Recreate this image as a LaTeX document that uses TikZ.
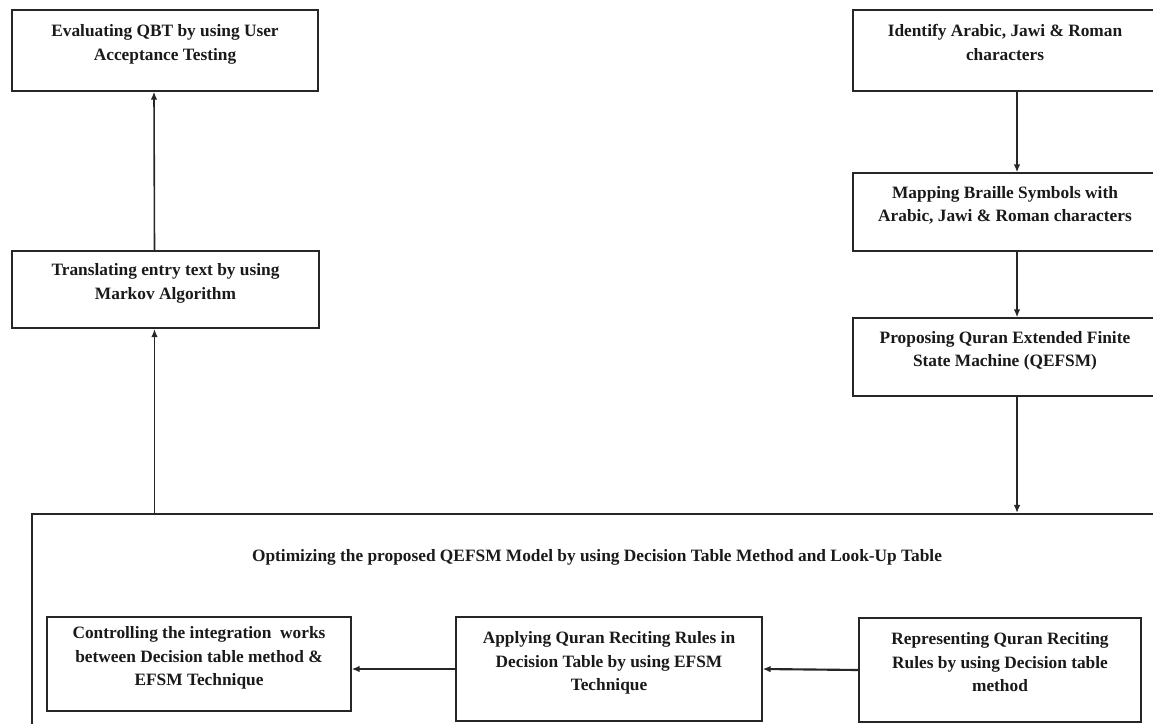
\documentclass[tikz,border=0pt]{standalone}
\usepackage{fontspec}
\setmainfont{Liberation Serif}
\definecolor{inkline}{HTML}{262626}
\definecolor{inktext}{HTML}{1A1A1A}
\usetikzlibrary{arrows.meta}
\tikzset{
  box/.style={
    draw=inkline, line width=#1, fill=white,
    font=\fontsize{13}{17.5}\selectfont\bfseries,
    text=inktext, align=center, inner sep=2pt, text depth=12pt
  },
  box/.default=1pt,
  arr/.style={-{Latex[length=6pt,width=5pt]}, line width=#1, color=inkline},
  arr/.default=1.2pt,
  lbl/.style={font=\fontsize{13}{17.5}\selectfont\bfseries, text=inktext},
}

\begin{document}
\begin{tikzpicture}[x=0.75pt, y=-0.75pt]
    \clip (0,0) rectangle (1153,724);

    % left column
    \node[box, minimum width=229.5pt, minimum height=60.75pt] (eval) at (165,50.5)
      {Evaluating QBT by using User\\Acceptance Testing};
    \node[box=1.7pt, minimum width=230pt, minimum height=57.75pt] (transl) at (165.5,289.5)
      {Translating entry text by using\\Markov Algorithm};

    % right column
    \node[box, minimum width=228pt, minimum height=60.75pt] (ident) at (1005,50.5)
      {Identify Arabic, Jawi \& Roman\\characters};
    \node[box, minimum width=228pt, minimum height=58.5pt] (mapping) at (1005,212)
      {Mapping Braille Symbols with\\Arabic, Jawi \& Roman characters};
    \node[box, minimum width=228pt, minimum height=58.5pt] (prop) at (1005,357)
      {Proposing Quran Extended Finite\\State Machine (QEFSM)};

    % optimizing block
    \node[draw=inkline, line width=1.6pt, minimum width=847.5pt, minimum height=172.5pt] (optbox) at (597,629) {};
    \node[lbl] (opttitle) at (597,557)
      {Optimizing the proposed QEFSM Model by using Decision Table Method and Look-Up Table};

    \node[box, minimum width=228pt, minimum height=70.5pt] (ctrl) at (199,664)
      {Controlling the integration\ \ works\\between Decision table method \&\\EFSM Technique};
    \node[box, minimum width=229.5pt, minimum height=78pt] (apply) at (609,669)
      {Applying Quran Reciting Rules in\\Decision Table by using EFSM\\Technique};
    \node[box, minimum width=211.5pt, minimum height=78pt] (repr) at (1000,670)
      {Representing Quran Reciting\\Rules by using Decision table\\method};

    \draw[arr] ([xshift=-8.25pt]transl.north) -- ([xshift=-8.25pt]eval.south);
    \draw[arr] ([xshift=-8.25pt]transl.south |- optbox.north) -- ([xshift=-8.25pt]transl.south);
    \draw[arr] ([xshift=9pt]ident.south) -- ([xshift=9pt]mapping.north);
    \draw[arr] ([xshift=9pt]mapping.south) -- ([xshift=9pt]prop.north);
    \draw[arr] ([xshift=9pt]prop.south) -- ([xshift=9pt]prop.south |- optbox.north);
    \draw[arr=1.6pt] (repr.west) -- (apply.east);
    \draw[arr=1.6pt] (apply.west) -- (apply.west -| ctrl.east);
\end{tikzpicture}
\end{document}
